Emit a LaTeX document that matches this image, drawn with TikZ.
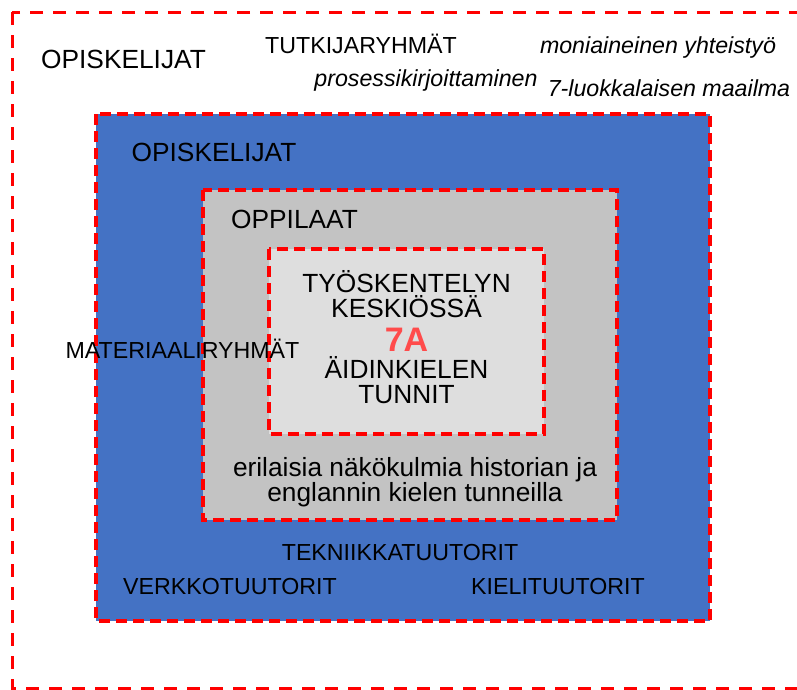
\documentclass[tikz,border=0pt]{standalone}
\usepackage{fontspec}
\setmainfont{Liberation Sans}
\definecolor{boxblue}{RGB}{68,114,196}
\definecolor{midgray}{RGB}{195,195,195}
\definecolor{lightgray2}{RGB}{222,222,222}
\definecolor{dashred}{RGB}{255,0,0}
\definecolor{accentred}{RGB}{255,75,75}
\tikzset{
  frame/.style={draw=dashred, line width=3pt, dash pattern=on 13pt off 10pt},
  boxline/.style={draw=dashred, line width=3.6pt, dash pattern=on 11pt off 6pt},
  big/.style={font=\fontsize{26.3}{26.3}\selectfont, anchor=base, inner sep=0pt},
  small/.style={font=\fontsize{23.2}{23.2}\selectfont, anchor=base, inner sep=0pt},
  smallit/.style={font=\fontsize{23.2}{23.2}\selectfont\itshape, anchor=base, inner sep=0pt},
}
\begin{document}
\begin{tikzpicture}[x=1pt, y=-1pt]
\useasboundingbox (0,0) rectangle (797,689);
\clip (0,0) rectangle (797,689);
% outer frame (runs off the right edge)
\path[frame] (12,12) rectangle (812,688);
% nested boxes
\path[fill=boxblue] (96,114) rectangle (710,621);
\path[boxline] (96,114) rectangle (710,621);
\path[fill=midgray] (203,190) rectangle (617,520);
\path[boxline] (203,190) rectangle (617,520);
\path[fill=lightgray2] (269,249) rectangle (544,434);
\path[boxline] (269,249) rectangle (544,434);

% texts around the frame
\node[big] (opiskOut) at (123.5,68) {OPISKELIJAT};
\node[small] (tutki) at (361,53) {TUTKIJARYHMÄT};
\node[smallit] (moni) at (658,53) {moniaineinen yhteistyö};
\node[smallit] (proses) at (426,86) {prosessikirjoittaminen};
\node[smallit] (luokka) at (669,96) {7-luokkalaisen maailma};

% box labels
\node[big] (opiskIn) at (214,161) {OPISKELIJAT};
\node[big] (oppilaat) at (294.5,228) {OPPILAAT};
\node[big] (tyo) at (406.5,292) {TYÖSKENTELYN};
\node[big] (keski) at (406.5,317) {KESKIÖSSÄ};
\node[font=\fontsize{34}{34}\selectfont\bfseries, text=accentred, anchor=base, inner sep=0pt] (sevenA) at (406.5,351) {7A};
\node[big] (aidin) at (406.5,378) {ÄIDINKIELEN};
\node[big] (tunnit) at (406.5,403) {TUNNIT};
\node[small] (materiaali) at (182.5,358) {MATERIAALIRYHMÄT};
\node[big] (erilaisia) at (415,476) {erilaisia näkökulmia historian ja};
\node[big] (englannin) at (415,501) {englannin kielen tunneilla};

% tutors
\node[small] (tekniikka) at (400,560) {TEKNIIKKATUUTORIT};
\node[small] (verkko) at (230,594) {VERKKOTUUTORIT};
\node[small] (kieli) at (558,594) {KIELITUUTORIT};
\end{tikzpicture}
\end{document}
